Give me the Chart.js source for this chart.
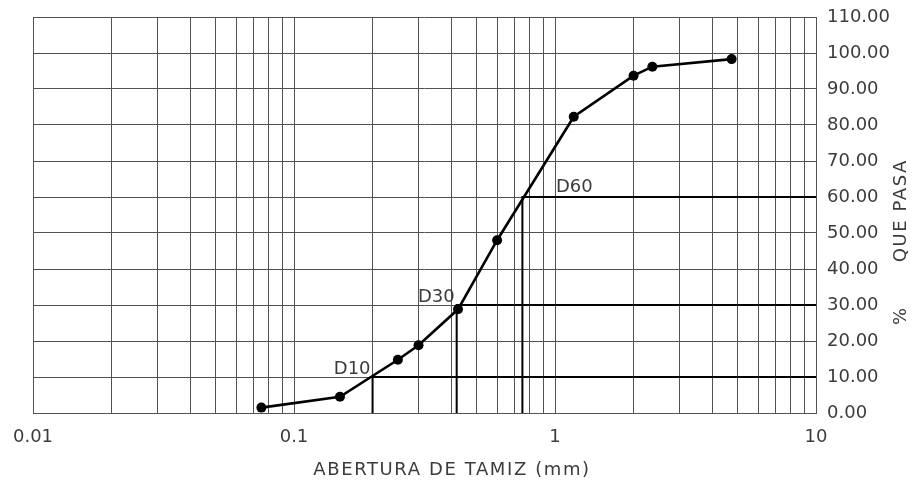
<!DOCTYPE html>
<html>
<head>
<meta charset="utf-8">
<script src="https://cdn.jsdelivr.net/npm/chart.js@4.4.1/dist/chart.umd.min.js"></script>
<style>
  html, body { margin: 0; padding: 0; background: #fff; }
  #wrap { width: 914px; height: 483px; }
</style>
</head>
<body>
<div id="wrap"><canvas id="myChart"></canvas></div>
<script>
// granulometric curve: sieve opening (mm) vs % passing
const sieveSizes = [0.075, 0.15, 0.25, 0.3, 0.425, 0.6, 1.18, 2, 2.36, 4.75];
const percentPassing = [1.5, 4.5, 14.8, 18.8, 28.8, 48, 82.3, 93.7, 96.2, 98.3];

const dLabels = ["D10", "D30", "D60"];
const dPercents = [10, 30, 60];
const dSizes = [0.2, 0.42, 0.75];

const xGrid = [0.01, 0.02, 0.03, 0.04, 0.05, 0.06, 0.07, 0.08, 0.09,
               0.1, 0.2, 0.3, 0.4, 0.5, 0.6, 0.7, 0.8, 0.9,
               1, 2, 3, 4, 5, 6, 7, 8, 9, 10];
const xDecades = [0.01, 0.1, 1, 10];
const xTickLabels = ["0.01", "0.1", "1", "10"];
const yMin = 0;
const yMax = 110;
const yStep = 10;

const xTitle = "ABERTURA DE TAMIZ (mm)";
const yTitle = "%      QUE PASA";

const FONT = '"DejaVu Sans", sans-serif';
const TEXT = "#3c3c3c";
const GRID = "#525252";

const curve = sieveSizes.map((s, i) => ({ x: s, y: percentPassing[i] }));
const xEnd = xDecades[xDecades.length - 1];

const dSets = dLabels.map((lbl, i) => ({
  label: lbl,
  data: [{ x: dSizes[i], y: 0 }, { x: dSizes[i], y: dPercents[i] }, { x: xEnd, y: dPercents[i] }],
  borderColor: "#000",
  borderWidth: 2,
  pointRadius: 0,
  tension: 0,
}));

const textPlugin = {
  id: "textPlugin",
  afterDraw(chart) {
    const { ctx, scales: { x, y } } = chart;
    ctx.save();
    ctx.fillStyle = TEXT;
    ctx.font = "18px " + FONT;
    ctx.textBaseline = "alphabetic";
    dLabels.forEach((t, i) => {
      const py = y.getPixelForValue(dPercents[i]) - 3;
      if (i === dLabels.length - 1) {
        ctx.textAlign = "left";
        ctx.fillText(t, x.getPixelForValue(1) + 1, py - 2);
      } else {
        ctx.textAlign = "right";
        ctx.fillText(t, x.getPixelForValue(dSizes[i]) - 2, py);
      }
    });
    ctx.letterSpacing = "1.6px";
    ctx.textAlign = "center";
    ctx.textBaseline = "middle";
    ctx.fillText(xTitle, 452, 470);
    ctx.translate(901, 242);
    ctx.rotate(-Math.PI / 2);
    ctx.fillText(yTitle, 0, 0);
    ctx.restore();
  },
};

const ctx = document.getElementById("myChart").getContext("2d");
const myChart = new Chart(ctx, {
  type: "line",
  data: {
    datasets: [
      {
        label: "curva",
        data: curve,
        borderColor: "#000",
        backgroundColor: "#000",
        borderWidth: 2.6,
        pointRadius: 5,
        pointBackgroundColor: "#000",
        pointBorderWidth: 0,
        tension: 0,
      },
      ...dSets,
    ],
  },
  options: {
    responsive: true,
    maintainAspectRatio: false,
    animation: false,
    events: [],
    layout: { padding: { left: 33, top: 17, right: 0, bottom: 0 } },
    plugins: { legend: { display: false }, tooltip: { enabled: false } },
    scales: {
      x: {
        type: "logarithmic",
        min: xDecades[0],
        max: xEnd,
        afterBuildTicks: (scale) => {
          scale.ticks = xGrid.map((v) => ({ value: v }));
        },
        afterFit: (scale) => {
          scale.height = 70;
          scale.paddingLeft = 0;
          scale.paddingRight = 0;
        },
        grid: { color: GRID, lineWidth: 1, drawTicks: false },
        border: { color: GRID, width: 1 },
        ticks: {
          autoSkip: false,
          maxRotation: 0,
          minRotation: 0,
          padding: 14,
          color: TEXT,
          font: { family: FONT, size: 18 },
          callback: (v) => {
            const i = xDecades.findIndex((d) => Math.abs(v / d - 1) < 1e-6);
            return i >= 0 ? xTickLabels[i] : "";
          },
        },
      },
      y: {
        position: "right",
        min: yMin,
        max: yMax,
        afterFit: (scale) => {
          scale.width = 98;
          scale.paddingTop = 0;
          scale.paddingBottom = 0;
        },
        grid: { color: GRID, lineWidth: 1, drawTicks: false },
        border: { color: GRID, width: 1 },
        ticks: {
          stepSize: yStep,
          padding: 11,
          color: TEXT,
          font: { family: FONT, size: 18 },
          callback: (v) => v.toFixed(2),
        },
      },
    },
  },
  plugins: [textPlugin],
});
</script>
</body>
</html>
